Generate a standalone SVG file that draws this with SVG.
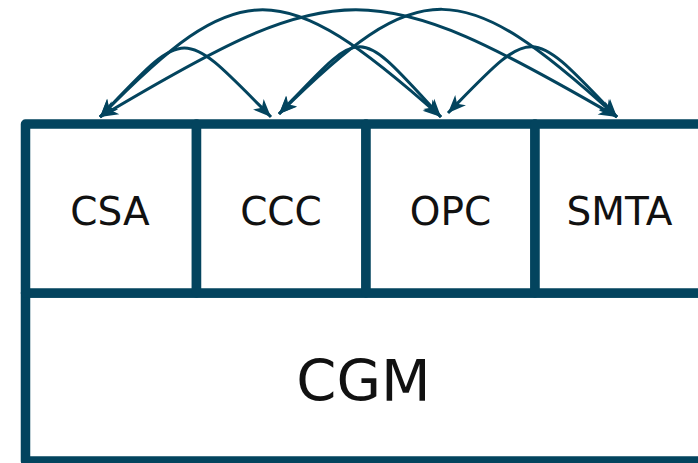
<svg xmlns="http://www.w3.org/2000/svg" width="698" height="463" viewBox="0 0 698 463">
<defs>
<style>
.box{fill:#ffffff;stroke:#03445E;stroke-width:9.5;stroke-linejoin:round}
.lbl{font-family:"DejaVu Sans","Liberation Sans",sans-serif;font-size:39px;fill:#111111;text-anchor:middle}
.big{font-size:57.5px}
.arc{fill:none;stroke:#03445E;stroke-width:3;marker-start:url(#ah);marker-end:url(#ah)}
</style>
<marker id="ah" viewBox="-20 -9 21 18" refX="0" refY="0" markerWidth="21" markerHeight="18" markerUnits="userSpaceOnUse" orient="auto-start-reverse">
<path d="M0,0 L-18,-7.5 L-13,0 L-18,7.5 Z" fill="#03445E"/>
</marker>
</defs>
<rect width="698" height="463" fill="#ffffff"/>
<g id="CGM">
<rect class="box" x="25.5" y="293" width="690" height="168"/>
<text class="lbl big" x="363.5" y="401">CGM</text>
</g>
<g id="CSA">
<rect class="box" x="25.5" y="124" width="171" height="169"/>
<text class="lbl" x="110" y="225">CSA</text>
</g>
<g id="CCC">
<rect class="box" x="196.5" y="124" width="169.5" height="169"/>
<text class="lbl" x="281" y="225">CCC</text>
</g>
<g id="OPC">
<rect class="box" x="366" y="124" width="169" height="169"/>
<text class="lbl" x="450.5" y="225">OPC</text>
</g>
<g id="SMTA">
<rect class="box" x="535" y="124" width="180" height="169"/>
<text class="lbl" x="619.5" y="225">SMTA</text>
</g>
<g id="connectors">
<path class="arc" d="M100,117 C188,25 180,25 271,117"/>
<path class="arc" d="M279,114 C365,24 355,24 441,117"/>
<path class="arc" d="M448,113 C535,24 528,24 617,117"/>
<path class="arc" d="M100,117 C240,-26 280,-26 441,117"/>
<path class="arc" d="M279,114 C420,-26 460,-26 617,117"/>
<path class="arc" d="M100,117 C340,-26 370,-26 617,117"/>
</g>
</svg>
